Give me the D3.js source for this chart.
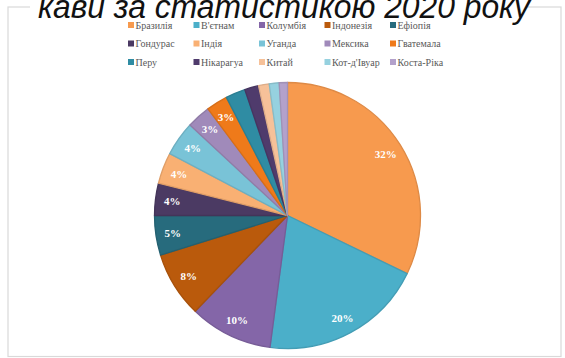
<!DOCTYPE html>
<html>
<head>
<meta charset="utf-8">
<script src="https://cdn.jsdelivr.net/npm/d3@7"></script>
<style>
  html, body { margin: 0; padding: 0; background: #fff; }
  svg { display: block; }
</style>
</head>
<body>
<svg id="chart" width="565" height="358"></svg>
<script>
// Coffee production by country, 2020 (share of world output, %)
const countries = ["Бразилія", "В'єтнам", "Колумбія", "Індонезія", "Ефіопія",
                   "Гондурас", "Індія", "Уганда", "Мексика", "Гватемала",
                   "Перу", "Нікарагуа", "Китай", "Кот-д'Івуар", "Коста-Ріка"];
const shares = [32.2, 19.9, 10.1, 8.0, 4.8, 3.9, 3.8, 4.2, 2.9, 2.6, 2.4, 1.7, 1.3, 1.2, 1.0];
const colors = ["#F79A4E", "#4BAFC9", "#8466A8", "#BA5A0C", "#276B7D",
                "#4B3A63", "#F9B073", "#79C3D7", "#A08ABA", "#EF7A1A",
                "#2F8CA3", "#4F3B6C", "#F6C199", "#96D1DF", "#B3A1CB"];
const titleText = "кави за статистикою 2020 року";

const svg = d3.select("#chart");
const W = 565, H = 358;

// chart frame
svg.append("rect")
  .attr("x", 8).attr("y", 7).attr("width", 553).attr("height", 349.5)
  .attr("fill", "#fff").attr("stroke", "#D9D9D9").attr("stroke-width", 1.2);

// title (sits over the top edge of the frame)
svg.append("rect").attr("x", 30).attr("y", 0).attr("width", 497).attr("height", 12).attr("fill", "#fff");
svg.append("text")
  .attr("x", 38).attr("y", 18)
  .attr("font-family", "Liberation Sans, Arial, sans-serif")
  .attr("font-style", "italic")
  .attr("font-size", 34)
  .attr("fill", "#111")
  .attr("textLength", 492).attr("lengthAdjust", "spacingAndGlyphs")
  .text(titleText);

// legend: 5 columns x 3 rows
const color = d3.scaleOrdinal().domain(countries).range(colors);
const colX = d3.scalePoint().domain(d3.range(5)).range([128, 390]);
const rowY = d3.scalePoint().domain(d3.range(3)).range([25, 62]);
const legend = svg.append("g");
countries.forEach((name, i) => {
  const g = legend.append("g")
    .attr("transform", `translate(${colX(i % 5)},${rowY(Math.floor(i / 5))})`);
  g.append("rect").attr("x", 0).attr("y", -3).attr("width", 6).attr("height", 6)
    .attr("fill", color(name));
  g.append("text").attr("x", 7.5).attr("y", 3.5)
    .attr("font-family", "Liberation Serif, Cambria, serif")
    .attr("font-size", 10).attr("fill", "#595959")
    .text(name);
});

// pie
const cx = 287.5, cy = 215.5, R = 133;
const pie = d3.pie().sort(null).value(d => d.value);
const data = countries.map((name, i) => ({ name, value: shares[i] }));
const arcs = pie(data);
const arc = d3.arc().innerRadius(0).outerRadius(R);
const labelArc = d3.arc().innerRadius(116).outerRadius(116);

const pg = svg.append("g").attr("transform", `translate(${cx},${cy})`);
pg.selectAll("path.slice").data(arcs).join("path")
  .attr("class", "slice")
  .attr("d", arc)
  .attr("fill", d => color(d.data.name))
  .attr("stroke", d => d3.color(color(d.data.name)).darker(0.3))
  .attr("stroke-width", 1.3)
  .attr("stroke-linejoin", "round");

pg.selectAll("text.lbl").data(arcs.filter(d => Math.round(d.data.value) >= 3)).join("text")
  .attr("class", "lbl")
  .attr("transform", d => `translate(${labelArc.centroid(d)})`)
  .attr("text-anchor", "middle").attr("dy", "0.35em")
  .attr("font-family", "Liberation Serif, Cambria, serif")
  .attr("font-weight", "bold").attr("font-size", 11)
  .attr("fill", "#fff")
  .text(d => Math.round(d.data.value) + "%");
</script>
</body>
</html>
